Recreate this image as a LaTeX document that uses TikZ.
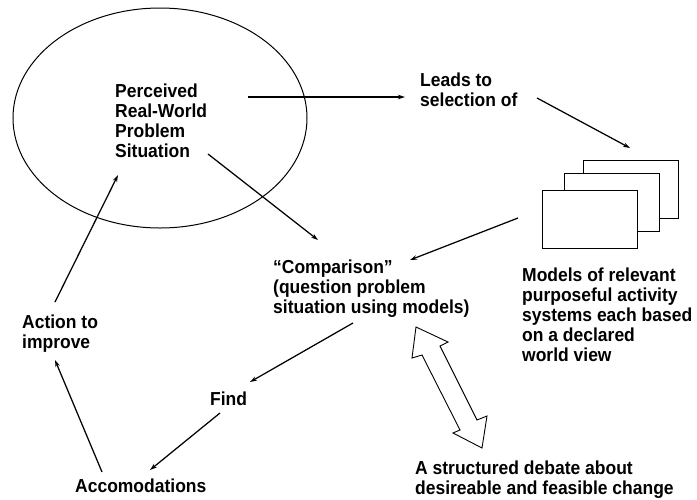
\documentclass[tikz,border=0pt]{standalone}
\usepackage{fontspec}
\setmainfont{Liberation Sans}[FakeStretch=0.93]
\usetikzlibrary{arrows.meta}
\begin{document}
\begin{tikzpicture}[x=1pt,y=-1pt,
  % multi-line labels are placed by the baseline of their last line
  lbl/.style={anchor=base west, inner sep=0pt, align=left,
    font=\fontsize{18.8}{20}\selectfont\bfseries},
  arr/.style={line width=1.25pt, -{Stealth[length=7pt,width=4.5pt]}},
  sheet/.style={draw, line width=1pt, fill=white, anchor=north west,
    minimum width=95pt, minimum height=58pt, inner sep=0pt},
]
\useasboundingbox[fill=white] (0,0) rectangle (697,499);

% the perceived situation
\draw[line width=1pt] (160,118) ellipse [x radius=147, y radius=110];
\node[lbl] (ps) at (115,157) {Perceived\\Real-World\\Problem\\Situation};

% stack of activity models
\node[sheet] (m3) at (583,160) {};
\node[sheet] (m2) at (564,173) {};
\node[sheet] (m1) at (542,190) {};

% labels
\node[lbl] (lead) at (420,106) {Leads to\\selection of};
\node[lbl] (cmp) at (273,313) {“Comparison”\\(question problem\\situation using models)};
\node[lbl] (mod) at (522,361) {Models of relevant\\purposeful activity\\systems each based\\on a declared\\world view};
\node[lbl] (act) at (22,348) {Action to\\improve};
\node[lbl] (find) at (210,405) {Find};
\node[lbl] (acc) at (75,492) {Accomodations};
\node[lbl] (deb) at (415,494) {A structured debate about\\desireable and feasible change};

% connector end points
\coordinate (a1s) at (248,97);  \coordinate (a1e) at (405,97);
\coordinate (a2s) at (537,98);  \coordinate (a2e) at (630,148);
\coordinate (a3s) at (518,218); \coordinate (a3e) at (410,260);
\coordinate (a4s) at (208,154); \coordinate (a4e) at (318,240);
\coordinate (a5s) at (353,323); \coordinate (a5e) at (250,382);
\coordinate (a6s) at (220,413); \coordinate (a6e) at (150,470);
\coordinate (a7s) at (102,472); \coordinate (a7e) at (55,360);
\coordinate (a8s) at (55,302);  \coordinate (a8e) at (118,175);

\draw[arr] (a1s) -- (a1e);
\draw[arr] (a2s) -- (a2e);
\draw[arr] (a3s) -- (a3e);
\draw[arr] (a4s) -- (a4e);
\draw[arr] (a5s) -- (a5e);
\draw[arr] (a6s) -- (a6e);
\draw[arr] (a7s) -- (a7e);
\draw[arr] (a8s) -- (a8e);

% two-headed block arrow between comparison and debate
\draw[line width=0.9pt, fill=white, line join=miter]
  (416,327) -- (448,342) -- (440,346) -- (477,420) -- (487,416)
  -- (482,448) -- (453,433) -- (460,430) -- (422,355) -- (412,358) -- cycle;
\end{tikzpicture}
\end{document}
